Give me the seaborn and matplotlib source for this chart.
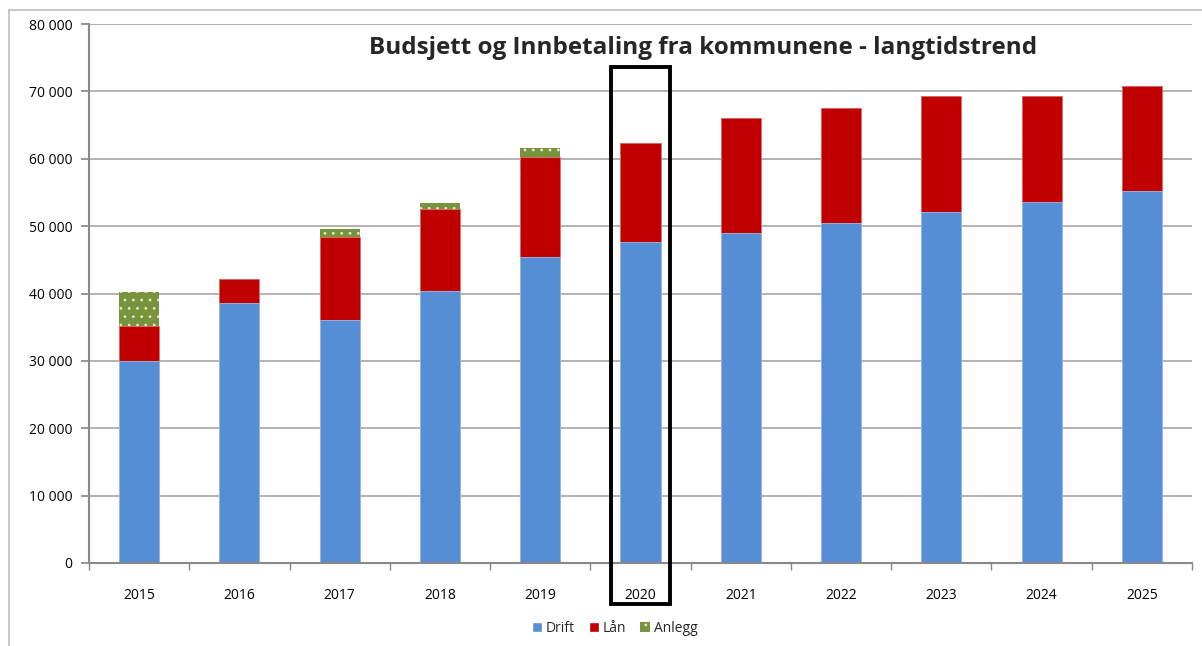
import matplotlib
matplotlib.use("Agg")
import matplotlib.pyplot as plt
import seaborn as sns
import pandas as pd
from matplotlib.patches import Rectangle, Patch
from matplotlib.lines import Line2D
from matplotlib.ticker import FuncFormatter, FixedLocator

years = ["2015", "2016", "2017", "2018", "2019", "2020", "2021", "2022", "2023", "2024", "2025"]
drift = [30000, 38600, 36050, 40350, 45400, 47600, 48950, 50450, 52050, 53550, 55200]
laan = [5200, 3600, 12300, 12150, 14850, 14700, 17100, 17050, 17250, 15750, 15600]
anlegg = [5000, 0, 1200, 900, 1350, 0, 0, 0, 0, 0, 0]

df = pd.DataFrame({"year": years, "Drift": drift, "Lån": laan, "Anlegg": anlegg})
df["top_laan"] = df["Drift"] + df["Lån"]
df["top_anlegg"] = df["top_laan"] + df["Anlegg"]

c_drift = "#558ED5"
c_laan = "#C00000"
c_anlegg = "#77933C"

sns.set_theme(style="white")
plt.rcParams["font.family"] = ["Open Sans", "DejaVu Sans"]
plt.rcParams["hatch.linewidth"] = 0.8

fig = plt.figure(figsize=(12.02, 6.46), dpi=100)
ax = fig.add_axes([89 / 1202, 1 - 563 / 646, (1192 - 89) / 1202, (563 - 24) / 646])

# stacked bars drawn from the top down
sns.barplot(data=df, x="year", y="top_anlegg", color=c_anlegg, width=0.4, ax=ax,
            saturation=1, edgecolor="#dfe8cc", linewidth=0, hatch="..")
sns.barplot(data=df, x="year", y="top_laan", color=c_laan, width=0.4, ax=ax,
            saturation=1, edgecolor="#e07070", linewidth=0.6)
sns.barplot(data=df, x="year", y="Drift", color=c_drift, width=0.4, ax=ax,
            saturation=1, edgecolor="#9dbde8", linewidth=0.6)

ax.set_xlim(-0.5, 10.5)
ax.set_ylim(0, 80000)
ax.set_yticks(range(0, 80001, 10000))
ax.yaxis.set_major_formatter(FuncFormatter(lambda v, p: f"{int(v):,}".replace(",", " ")))
ax.grid(axis="y", color="#a6a6a6", linewidth=1.2)
ax.set_axisbelow(True)
ax.set_xlabel("")
ax.set_ylabel("")

for s in ["top", "right"]:
    ax.spines[s].set_visible(False)
for s in ["left", "bottom"]:
    ax.spines[s].set_color("#898989")
    ax.spines[s].set_linewidth(1.5)

ax.tick_params(axis="y", left=True, length=6, color="#898989", labelsize=10, pad=6, labelcolor="black")
ax.xaxis.set_minor_locator(FixedLocator([i - 0.5 for i in range(12)]))
ax.tick_params(axis="x", which="major", bottom=False, labelsize=10, pad=12, labelcolor="black")
ax.tick_params(axis="x", which="minor", bottom=True, length=5, color="#898989")

ax.text(0.557, 0.955, "Budsjett og Innbetaling fra kommunene - langtidstrend",
        transform=ax.transAxes, ha="center", va="center", fontsize=17.5, fontweight="bold")

# highlight box around 2020
ax.add_patch(Rectangle((5 - 0.29, -6100), 0.58, 79700, fill=False, edgecolor="black",
                       linewidth=2.8, clip_on=False, zorder=5))

handles = [Patch(facecolor=c_drift, label="Drift"),
           Patch(facecolor=c_laan, label="Lån"),
           Patch(facecolor=c_anlegg, edgecolor="#dfe8cc", hatch="..", linewidth=0, label="Anlegg")]
fig.legend(handles=handles, loc="center", bbox_to_anchor=(615 / 1202, 1 - 628 / 646), ncol=3,
           frameon=False, fontsize=10, handlelength=0.7, handleheight=0.7, handletextpad=0.3,
           columnspacing=1.0)

# outer chart frame
fig.add_artist(Line2D([9 / 1202, 1], [1 - 10 / 646] * 2, color="#bfbfbf", linewidth=1.2))
fig.add_artist(Line2D([9 / 1202] * 2, [0, 1 - 10 / 646], color="#bfbfbf", linewidth=1.2))

fig.savefig("out.png", dpi=100)
